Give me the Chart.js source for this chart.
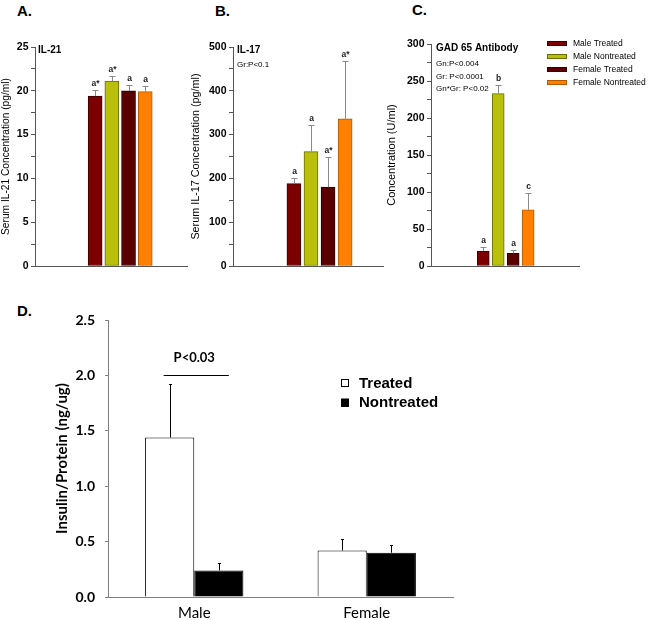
<!DOCTYPE html>
<html>
<head>
<meta charset="utf-8">
<script src="https://cdn.jsdelivr.net/npm/chart.js@4.4.1/dist/chart.umd.min.js"></script>
<style>
  body { margin: 0; background: #fff; }
  #page { position: relative; width: 657px; height: 620px; overflow: hidden; }
  canvas { position: absolute; }
  .tag { position: absolute; font: bold 15px Arial, "Liberation Sans", sans-serif; line-height: 15px; color: #000; }
</style>
</head>
<body>
<div id="page">
  <div class="tag" style="left:17px;top:3px">A.</div>
  <div class="tag" style="left:215px;top:3px">B.</div>
  <div class="tag" style="left:412px;top:2px">C.</div>
  <div class="tag" style="left:17px;top:303px">D.</div>
  <canvas id="cA" width="195" height="290" style="left:0;top:0"></canvas>
  <canvas id="cB" width="200" height="290" style="left:189px;top:0"></canvas>
  <canvas id="cC" width="272" height="290" style="left:385px;top:0"></canvas>
  <canvas id="cD" width="425" height="330" style="left:45px;top:290px"></canvas>
</div>
<script>
(function(){
  // ---- Data
  const groups = ['Male Treated', 'Male Nontreated', 'Female Treated', 'Female Nontreated'];

  const il21Mean = [19.4, 21.1, 20.0, 19.9];
  const il21Sem = [0.7, 0.6, 0.7, 0.7];
  const il21Marks = ['a*', 'a*', 'a', 'a'];
  const il21Ticks = [0, 5, 10, 15, 20, 25];

  const il17Mean = [188, 261, 180, 336];
  const il17Sem = [12, 62, 68, 131];
  const il17Marks = ['a', 'a', 'a*', 'a*'];
  const il17Ticks = [0, 100, 200, 300, 400, 500];

  const gadMean = [20, 233, 17, 76];
  const gadSem = [6, 12, 5, 23];
  const gadMarks = ['a', 'b', 'a', 'c'];
  const gadTicks = [0, 50, 100, 150, 200, 250, 300];

  const sexes = ['Male', 'Female'];
  const insTreated = [1.44, 0.42];
  const insTreatedSem = [0.48, 0.10];
  const insNontreated = [0.24, 0.40];
  const insNontreatedSem = [0.07, 0.07];
  const insTicks = [0, 0.5, 1.0, 1.5, 2.0, 2.5];

  // ---- Styles
  const ARIAL = 'Arial, "Liberation Sans", sans-serif';
  const fills = ['#7d0000', '#b9bf0a', '#5a0000', '#ff8000'];
  const edges = ['#3a0000', '#6a6d00', '#2a0000', '#b35a00'];
  const axisGrey = '#555';

  // error bars, letters, notes and drawn legends
  const panel = {
    id: 'panel',
    afterDatasetsDraw(chart, args, o) {
      const { ctx, chartArea: ca, scales: { y } } = chart;
      ctx.save();
      (o.sem || []).forEach((sem, di) => {
        const meta = chart.getDatasetMeta(di);
        meta.data.forEach((bar, i) => {
          const d = chart.data.datasets[di].data[i];
          const v = typeof d === 'object' ? d.y : d;
          const top = Math.round(y.getPixelForValue(v + sem[i])) + 0.5;
          const x = Math.round(bar.x) + 0.5;
          ctx.strokeStyle = o.errColor;
          ctx.lineWidth = 1;
          ctx.beginPath();
          ctx.moveTo(x, bar.y);
          ctx.lineTo(x, top);
          ctx.moveTo(x - o.cap, top);
          ctx.lineTo(x + o.cap, top);
          ctx.stroke();
          if (o.marks) {
            ctx.fillStyle = '#222';
            ctx.font = 'bold 8.5px ' + ARIAL;
            ctx.textAlign = 'center';
            ctx.textBaseline = 'middle';
            ctx.fillText(o.marks[i], x, top - 7);
          }
        });
      });
      (o.notes || []).forEach(n => {
        ctx.fillStyle = '#000';
        ctx.font = n.font;
        ctx.textAlign = 'left';
        ctx.textBaseline = 'middle';
        ctx.fillText(n.text, ca.left + n.dx, ca.top + n.dy);
      });
      if (o.legend) {
        const L = o.legend;
        L.items.forEach((it, i) => {
          const cy = L.y + i * L.gap;
          ctx.fillStyle = it.fill;
          ctx.fillRect(L.x, cy - L.h / 2, L.w, L.h);
          ctx.strokeStyle = it.stroke;
          ctx.lineWidth = 1;
          ctx.strokeRect(L.x + 0.5, Math.round(cy - L.h / 2) + 0.5, L.w - 1, L.h - 1);
          ctx.fillStyle = '#000';
          ctx.font = L.font;
          ctx.textAlign = 'left';
          ctx.textBaseline = 'middle';
          ctx.fillText(it.label, L.x + L.w + L.pad, cy + 0.5);
        });
      }
      if (o.bracket) {
        const B = o.bracket;
        const a = chart.getDatasetMeta(0).data[0], b = chart.getDatasetMeta(1).data[0];
        const yy = Math.round(y.getPixelForValue(B.value)) + 0.5;
        ctx.strokeStyle = '#000';
        ctx.lineWidth = 1;
        ctx.beginPath();
        ctx.moveTo(a.x - B.ext[0], yy);
        ctx.lineTo(b.x + B.ext[1], yy);
        ctx.stroke();
        ctx.fillStyle = '#000';
        ctx.font = 'bold 13px Lato, sans-serif';
        ctx.textAlign = 'center';
        ctx.textBaseline = 'middle';
        ctx.fillText(B.text, (a.x + b.x) / 2, yy - 18);
      }
      ctx.restore();
    }
  };

  // y ticks: labelled values plus a minor tick between each pair
  const withMinor = (labels) => {
    const out = [];
    labels.forEach((v, i) => {
      out.push({ value: v });
      if (i < labels.length - 1) out.push({ value: (v + labels[i + 1]) / 2, minor: true });
    });
    return out;
  };

  function smallPanel(id, opt) {
    return new Chart(document.getElementById(id), {
      type: 'bar',
      data: {
        datasets: [{
          data: opt.mean.map((v, i) => ({ x: i, y: v })),
          backgroundColor: fills,
          borderColor: edges,
          borderWidth: 1,
          borderSkipped: false,
          barThickness: opt.barW
        }]
      },
      options: {
        responsive: false,
        animation: false,
        layout: { padding: { top: opt.top, right: opt.right, bottom: opt.bottom, left: 0 } },
        scales: {
          x: {
            type: 'linear', offset: false, min: opt.xmin, max: opt.xmax,
            grid: { display: false },
            ticks: { display: false },
            border: { color: axisGrey, width: 1 },
            afterFit: s => { s.height = 0; }
          },
          y: {
            min: 0, max: opt.ticks[opt.ticks.length - 1],
            afterBuildTicks: s => { s.ticks = withMinor(opt.ticks); },
            afterFit: s => { s.width = opt.yw; },
            grid: { drawOnChartArea: false, drawTicks: true, tickLength: 4, color: axisGrey },
            border: { color: axisGrey, width: 1 },
            ticks: {
              autoSkip: false, padding: 2.5, color: '#000',
              font: { family: ARIAL, size: 10.5, weight: 'bold' },
              callback: v => opt.ticks.includes(v) ? String(v) : ''
            },
            title: {
              display: true, text: opt.title, color: '#000',
              padding: { top: opt.tpad, bottom: 0 },
              font: { family: ARIAL, size: opt.tsize }
            }
          }
        },
        plugins: {
          legend: { display: false },
          tooltip: { enabled: false },
          panel: {
            sem: [opt.sem], errColor: '#8a8a8a', cap: 3, marks: opt.marks,
            notes: opt.notes, legend: opt.legend
          }
        }
      },
      plugins: [panel]
    });
  }

  smallPanel('cA', {
    mean: il21Mean, sem: il21Sem, marks: il21Marks, ticks: il21Ticks,
    title: 'Serum IL-21 Concentration (pg/ml)', tsize: 10.2,
    top: 47, bottom: 24, right: 8, yw: 35, tpad: 0,
    xmin: -3.6, xmax: 5.5, barW: 14,
    notes: [{ text: 'IL-21', dx: 3, dy: 3.5, font: 'bold 10px ' + ARIAL }]
  });

  smallPanel('cB', {
    mean: il17Mean, sem: il17Sem, marks: il17Marks, ticks: il17Ticks,
    title: 'Serum IL-17 Concentration (pg/ml)', tsize: 10.8,
    top: 47, bottom: 24, right: 6, yw: 44, tpad: 0.5,
    xmin: -3.57, xmax: 5.22, barW: 14,
    notes: [
      { text: 'IL-17', dx: 4, dy: 3.5, font: 'bold 10px ' + ARIAL },
      { text: 'Gr:P<0.1', dx: 4, dy: 18, font: '8px ' + ARIAL }
    ]
  });

  smallPanel('cC', {
    mean: gadMean, sem: gadSem, marks: gadMarks, ticks: gadTicks,
    title: 'Concentration (U/ml)', tsize: 11,
    top: 44, bottom: 24, right: 78, yw: 46, tpad: 0.5,
    xmin: -3.49, xmax: 6.4, barW: 12,
    notes: [
      { text: 'GAD 65 Antibody', dx: 5, dy: 4.5, font: 'bold 10px ' + ARIAL },
      { text: 'Gn:P<0.004', dx: 5, dy: 19.5, font: '8px ' + ARIAL },
      { text: 'Gr: P<0.0001', dx: 5, dy: 32.5, font: '8px ' + ARIAL },
      { text: 'Gn*Gr: P<0.02', dx: 5, dy: 45, font: '8px ' + ARIAL }
    ],
    legend: {
      x: 162, y: 43.5, gap: 13, w: 20, h: 5, pad: 6, font: '8.5px ' + ARIAL,
      items: groups.map((g, i) => ({ label: g, fill: fills[i], stroke: edges[i] }))
    }
  });

  // ---- Panel D
  new Chart(document.getElementById('cD'), {
    type: 'bar',
    data: {
      labels: sexes,
      datasets: [
        { label: 'Treated', data: insTreated, backgroundColor: '#fff', borderColor: '#000', borderWidth: 1 },
        { label: 'Nontreated', data: insNontreated, backgroundColor: '#000', borderColor: '#000', borderWidth: 1 }
      ]
    },
    options: {
      responsive: false,
      animation: false,
      layout: { padding: { top: 30, right: 17, bottom: 0, left: 0 } },
      datasets: { bar: { categoryPercentage: 0.57, barPercentage: 1.0 } },
      scales: {
        x: {
          grid: { display: false, drawTicks: false },
          border: { color: '#7f7f7f', width: 1 },
          ticks: { color: '#000', padding: 7, font: { family: 'Lato, sans-serif', size: 15 } },
          afterFit: s => { s.height = 23; }
        },
        y: {
          min: 0, max: 2.5,
          afterBuildTicks: s => { s.ticks = insTicks.map(v => ({ value: v })); },
          afterFit: s => { s.width = 63; },
          grid: { drawOnChartArea: false, drawTicks: true, tickLength: 3, color: '#7f7f7f' },
          border: { color: '#7f7f7f', width: 1 },
          ticks: {
            color: '#000', padding: 10,
            font: { family: 'Lato, sans-serif', size: 14, weight: 'bold' },
            callback: v => v.toFixed(1)
          },
          title: {
            display: true, text: 'Insulin/Protein (ng/ug)', color: '#000',
            padding: { top: 8, bottom: 0 },
            font: { family: 'Lato, sans-serif', size: 15, weight: 'bold' }
          }
        }
      },
      plugins: {
        legend: { display: false },
        tooltip: { enabled: false },
        panel: {
          sem: [insTreatedSem, insNontreatedSem], errColor: '#000', cap: 1.5,
          bracket: { value: 2.0, ext: [6, 10], text: 'P<0.03' },
          legend: {
            x: 296, y: 93, gap: 19.5, w: 8, h: 8, pad: 10, font: 'bold 15px ' + ARIAL,
            items: [
              { label: 'Treated', fill: '#fff', stroke: '#000' },
              { label: 'Nontreated', fill: '#000', stroke: '#000' }
            ]
          }
        }
      }
    },
    plugins: [panel]
  });
})();
</script>
</body>
</html>
